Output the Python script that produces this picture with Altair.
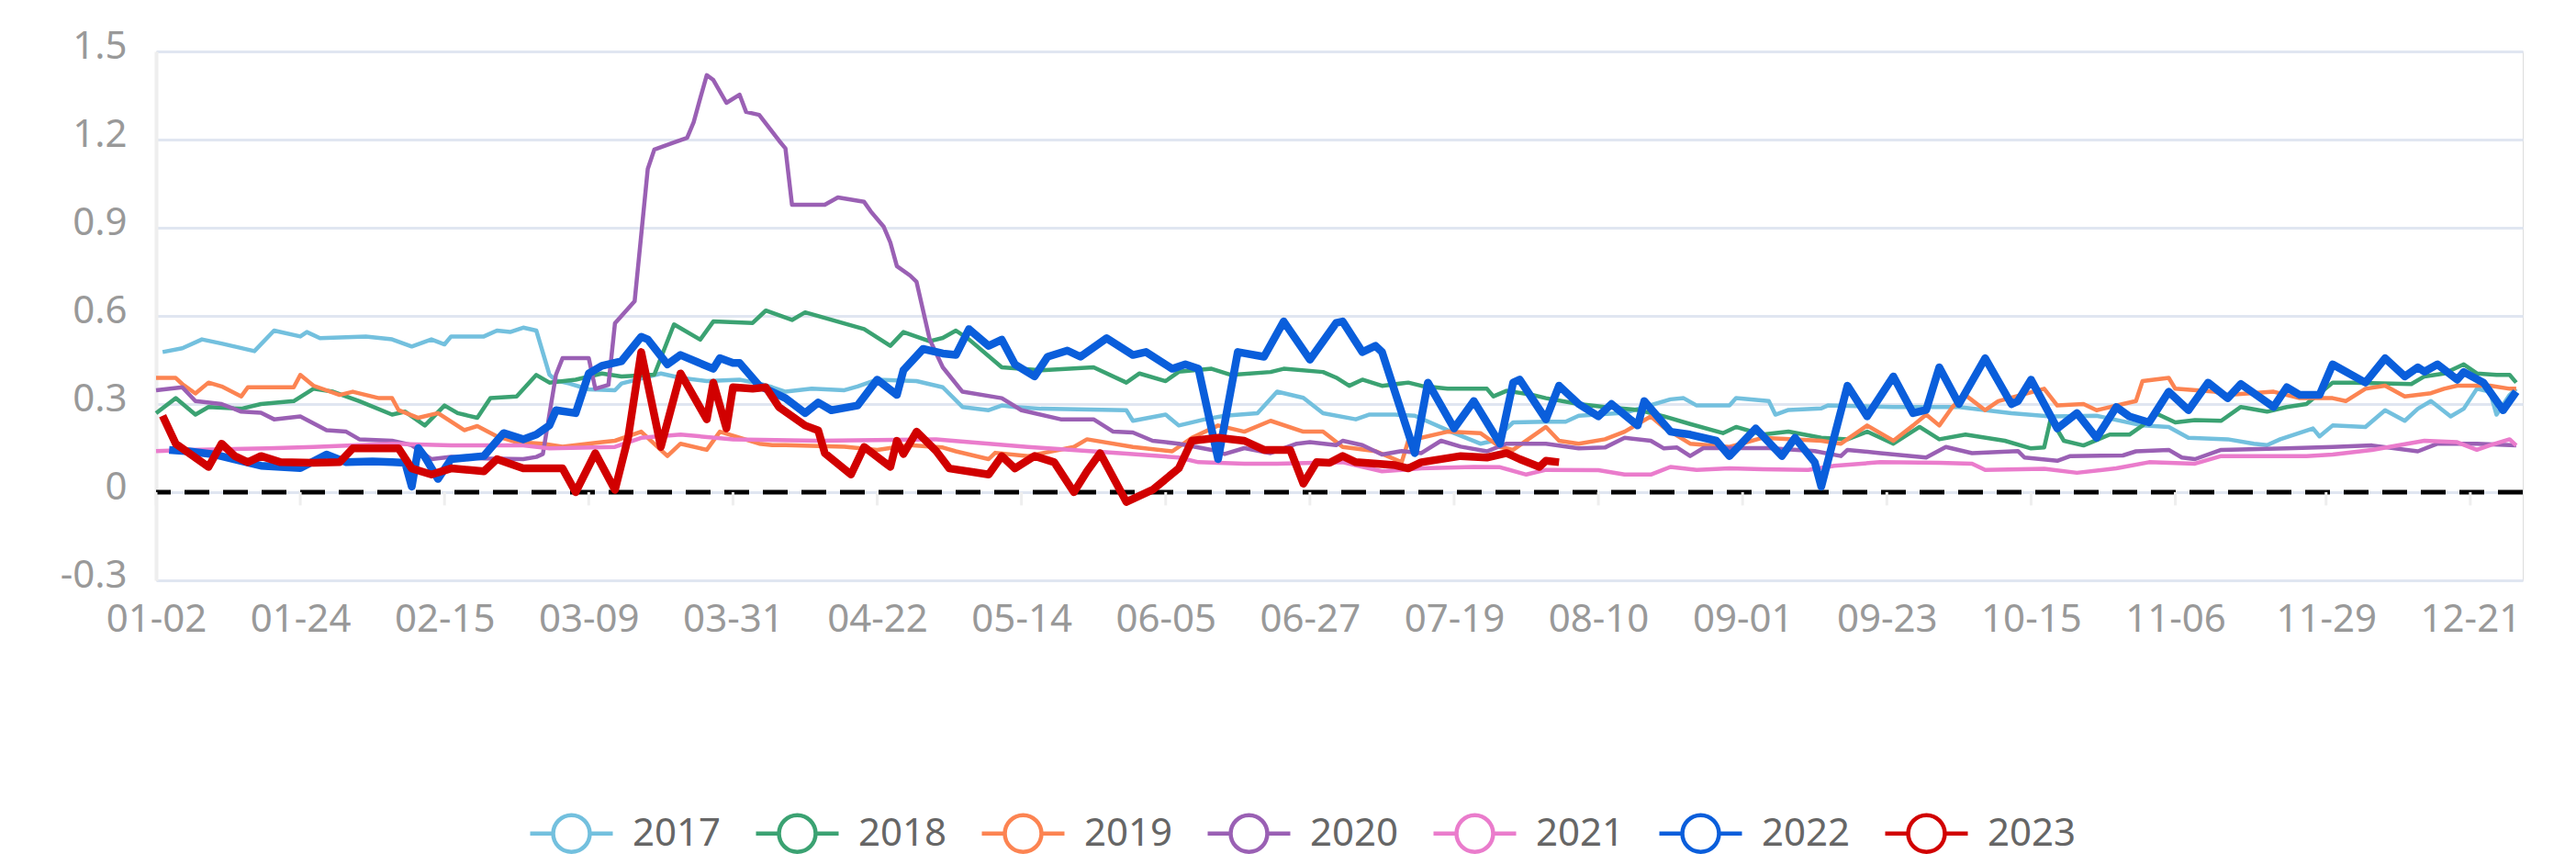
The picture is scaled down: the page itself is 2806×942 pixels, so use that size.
import altair as alt
import pandas as pd

YEARS = ["2017", "2018", "2019", "2020", "2021", "2022", "2023"]
COLORS = ["#73C0DE", "#3BA272", "#FC8452", "#9A60B4", "#EA7CCC", "#0A5EDB", "#D10000"]
WIDTHS = [4.5, 4.5, 4.5, 4.5, 4.5, 8.5, 8.5]

TICK_LABELS = ["01-02", "01-24", "02-15", "03-09", "03-31", "04-22", "05-14", "06-05",
               "06-27", "07-19", "08-10", "09-01", "09-23", "10-15", "11-06", "11-29", "12-21"]
Y_TICKS = [-0.3, 0, 0.3, 0.6, 0.9, 1.2, 1.5]

# day = days after 01-02
d2017 = [1, 4, 7, 10, 15, 18, 22, 23, 25, 32, 36, 39, 42, 44, 45, 50, 52, 54, 56, 58,
         60, 61, 63, 66, 70, 71, 77, 80, 84, 89, 92, 94, 96, 100, 105, 107, 110, 116, 120, 123,
         127, 129, 131, 135, 148, 149, 154, 156, 160, 163, 168, 171, 175, 178, 183, 185, 189, 192, 198, 202,
         204, 207, 212, 215, 217, 224, 231, 233, 235, 240, 241, 246, 247, 249, 254, 255, 265, 275, 283, 289,
         296, 303, 307, 310, 316, 320, 322, 324, 329, 330, 332, 337, 340, 343, 345, 347, 350, 352, 354, 356,
         357, 359, 360]
v2017 = [0.477, 0.49, 0.52, 0.506, 0.48, 0.55, 0.53, 0.545, 0.524, 0.53, 0.52, 0.496, 0.52, 0.503, 0.53, 0.53, 0.55, 0.545, 0.56, 0.55,
         0.40, 0.38, 0.37, 0.35, 0.347, 0.37, 0.404, 0.389, 0.378, 0.383, 0.37, 0.357, 0.342, 0.352, 0.347, 0.36, 0.383, 0.378, 0.357, 0.29,
         0.279, 0.295, 0.29, 0.284, 0.279, 0.243, 0.264, 0.227, 0.248, 0.26, 0.269, 0.342, 0.321, 0.269, 0.248, 0.264, 0.264, 0.26, 0.201, 0.165,
         0.175, 0.2375, 0.24, 0.24, 0.26, 0.27, 0.316, 0.32, 0.295, 0.295, 0.32, 0.31, 0.264, 0.28, 0.285, 0.295, 0.29, 0.29, 0.269, 0.258,
         0.26, 0.227, 0.222, 0.185, 0.18, 0.165, 0.16, 0.18, 0.217, 0.19, 0.227, 0.222, 0.279, 0.243, 0.284, 0.31, 0.258, 0.284, 0.352, 0.342,
         0.264, 0.331, 0.352]

d2018 = [0, 3, 6, 8, 13, 16, 21, 24, 27, 31, 36, 38, 41, 44, 46, 49, 51, 55, 58, 60,
         64, 68, 71, 76, 79, 83, 85, 91, 93, 97, 99, 108, 112, 114, 118, 120, 122, 124, 129, 135,
         143, 148, 150, 154, 156, 161, 164, 170, 172, 178, 180, 182, 184, 187, 191, 193, 197, 203, 204, 206,
         210, 212, 217, 221, 226, 230, 234, 239, 241, 245, 249, 254, 258, 261, 265, 269, 272, 276, 282, 286,
         288, 289, 291, 294, 298, 301, 303, 305, 308, 311, 315, 318, 322, 325, 328, 332, 335, 344, 346, 349,
         352, 354, 357, 359, 360]
v2018 = [0.269, 0.32, 0.264, 0.29, 0.284, 0.30, 0.31, 0.352, 0.342, 0.31, 0.264, 0.274, 0.227, 0.295, 0.269, 0.253, 0.32, 0.326, 0.399, 0.373,
         0.383, 0.404, 0.394, 0.40, 0.571, 0.519, 0.581, 0.576, 0.618, 0.586, 0.612, 0.555, 0.498, 0.545, 0.514, 0.525, 0.55, 0.52, 0.425, 0.415,
         0.425, 0.373, 0.404, 0.378, 0.41, 0.42, 0.399, 0.409, 0.42, 0.409, 0.39, 0.362, 0.383, 0.362, 0.373, 0.362, 0.352, 0.352, 0.326, 0.345,
         0.331, 0.32, 0.30, 0.29, 0.28, 0.258, 0.232, 0.201, 0.222, 0.196, 0.206, 0.185, 0.18, 0.206, 0.165, 0.222, 0.18, 0.196, 0.175, 0.149,
         0.152, 0.25, 0.175, 0.159, 0.196, 0.196, 0.227, 0.269, 0.2375, 0.245, 0.243, 0.29, 0.274, 0.29, 0.30, 0.373, 0.373, 0.368, 0.394, 0.404,
         0.435, 0.404, 0.399, 0.399, 0.373]

d2019 = [0, 3, 4, 6, 8, 10, 13, 14, 21, 22, 24, 28, 30, 34, 36, 37, 40, 43, 47, 49,
         52, 55, 59, 62, 68, 70, 74, 78, 80, 84, 86, 92, 94, 96, 105, 110, 115, 120, 122, 127,
         128, 133, 140, 142, 149, 155, 158, 162, 166, 170, 175, 178, 181, 186, 190, 191, 197, 202, 205, 207,
         212, 214, 217, 221, 224, 228, 230, 234, 240, 245, 254, 257, 261, 265, 268, 270, 272, 274, 276, 279,
         281, 288, 290, 294, 296, 300, 302, 303, 307, 308, 314, 316, 323, 327, 332, 334, 337, 340, 343, 347,
         349, 351, 356, 359, 360]
v2019 = [0.389, 0.389, 0.368, 0.336, 0.373, 0.36, 0.326, 0.357, 0.357, 0.399, 0.3625, 0.331, 0.342, 0.32, 0.32, 0.279, 0.253, 0.269, 0.211, 0.225,
         0.19, 0.17, 0.165, 0.155, 0.17, 0.175, 0.206, 0.123, 0.165, 0.144, 0.206, 0.165, 0.16, 0.16, 0.155, 0.144, 0.16, 0.152, 0.139, 0.1125,
         0.134, 0.123, 0.154, 0.18, 0.154, 0.139, 0.185, 0.227, 0.206, 0.243, 0.206, 0.206, 0.154, 0.14, 0.102, 0.175, 0.206, 0.201, 0.154, 0.144,
         0.222, 0.175, 0.165, 0.18, 0.206, 0.258, 0.22, 0.165, 0.154, 0.185, 0.175, 0.165, 0.227, 0.175, 0.227, 0.264, 0.227, 0.29, 0.33, 0.279,
         0.31, 0.352, 0.295, 0.30, 0.279, 0.30, 0.31, 0.378, 0.389, 0.352, 0.342, 0.331, 0.342, 0.32, 0.32, 0.31, 0.352, 0.3625, 0.326, 0.337,
         0.352, 0.3625, 0.3625, 0.352, 0.352]

d2020 = [0, 4, 6, 10, 13, 16, 18, 22, 26, 29, 31, 36, 39, 42, 45, 50, 56, 58, 59, 61,
         62, 66, 67, 69, 70, 73, 75, 76, 79, 81, 82, 83, 84, 85, 87, 89, 90, 92, 95, 96,
         97, 102, 104, 108, 109, 111, 112, 113, 115, 116, 118, 120, 123, 129, 132, 138, 143, 146, 149, 152,
         156, 161, 163, 166, 170, 174, 176, 180, 181, 184, 187, 190, 193, 196, 199, 203, 206, 212, 217, 221,
         224, 228, 230, 232, 234, 236, 241, 246, 253, 257, 258, 263, 270, 273, 277, 284, 285, 290, 292, 300,
         302, 307, 309, 311, 315, 325, 332, 338, 345, 348, 354, 360]
v2020 = [0.347, 0.357, 0.31, 0.30, 0.274, 0.27, 0.248, 0.258, 0.211, 0.206, 0.18, 0.175, 0.16, 0.1125, 0.12, 0.115, 0.1125, 0.12, 0.13, 0.40,
         0.456, 0.456, 0.352, 0.365, 0.575, 0.65, 1.10, 1.166, 1.19, 1.206, 1.259, 1.34, 1.419, 1.403, 1.325, 1.353, 1.294, 1.284, 1.197, 1.17,
         0.978, 0.978, 1.003, 0.988, 0.956, 0.903, 0.85, 0.769, 0.7375, 0.716, 0.52, 0.425, 0.342, 0.32, 0.279, 0.248, 0.248, 0.206, 0.203, 0.175,
         0.165, 0.144, 0.13, 0.15, 0.133, 0.165, 0.17, 0.16, 0.175, 0.16, 0.128, 0.14, 0.133, 0.175, 0.155, 0.139, 0.165, 0.165, 0.149, 0.152,
         0.185, 0.175, 0.149, 0.152, 0.123, 0.15, 0.15, 0.15, 0.14, 0.123, 0.144, 0.133, 0.118, 0.154, 0.133, 0.14, 0.118, 0.107, 0.123, 0.125,
         0.139, 0.144, 0.118, 0.1125, 0.144, 0.149, 0.154, 0.159, 0.139, 0.165, 0.165, 0.159]

d2021 = [0, 5, 17, 24, 36, 45, 56, 60, 70, 74, 80, 88, 101, 119, 133, 147, 156, 159, 166, 171,
         181, 187, 193, 201, 205, 209, 212, 220, 224, 228, 231, 235, 240, 245, 252, 256, 263, 272, 277, 279,
         288, 293, 299, 304, 311, 315, 328, 332, 338, 346, 351, 354, 356, 359, 360]
v2021 = [0.14, 0.144, 0.149, 0.154, 0.165, 0.159, 0.159, 0.149, 0.154, 0.185, 0.196, 0.18, 0.175, 0.18, 0.154, 0.133, 0.118, 0.102, 0.097, 0.097,
         0.102, 0.071, 0.081, 0.086, 0.085, 0.06, 0.076, 0.075, 0.06, 0.06, 0.086, 0.076, 0.081, 0.078, 0.076, 0.09, 0.102, 0.10, 0.097, 0.076,
         0.08, 0.066, 0.081, 0.102, 0.097, 0.123, 0.123, 0.128, 0.144, 0.175, 0.17, 0.144, 0.16, 0.18, 0.159]

d2022 = [2, 5, 9, 16, 22, 26, 29, 33, 36, 38, 39, 40, 41, 43, 45, 50, 53, 56, 58, 60,
         61, 64, 66, 68, 71, 74, 75, 78, 80, 85, 86, 88, 89, 92, 96, 99, 101, 103, 107, 110,
         113, 114, 117, 120, 122, 124, 127, 129, 131, 134, 136, 139, 141, 145, 149, 151, 155, 157, 159, 162,
         165, 169, 172, 176, 180, 181, 184, 186, 187, 192, 194, 198, 201, 205, 207, 208, 212, 214, 217, 220,
         222, 226, 227, 231, 234, 238, 240, 244, 248, 250, 253, 254, 258, 261, 265, 268, 270, 272, 275, 279,
         283, 284, 286, 290, 293, 296, 299, 301, 304, 307, 310, 313, 316, 318, 323, 325, 327, 330, 332, 337,
         340, 343, 345, 346, 348, 351, 352, 355, 358, 360]
v2022 = [0.144, 0.139, 0.128, 0.09, 0.082, 0.128, 0.102, 0.105, 0.102, 0.10, 0.019, 0.15, 0.12, 0.045, 0.1125, 0.123, 0.201, 0.18, 0.196, 0.227,
         0.279, 0.269, 0.404, 0.43, 0.446, 0.529, 0.52, 0.435, 0.467, 0.42, 0.456, 0.44, 0.44, 0.3625, 0.32, 0.269, 0.305, 0.279, 0.295, 0.383,
         0.331, 0.415, 0.4875, 0.472, 0.467, 0.555, 0.498, 0.519, 0.435, 0.394, 0.461, 0.482, 0.461, 0.524, 0.467, 0.477, 0.42, 0.435, 0.42, 0.1125,
         0.477, 0.461, 0.581, 0.451, 0.576, 0.581, 0.477, 0.498, 0.477, 0.133, 0.373, 0.217, 0.31, 0.165, 0.373, 0.383, 0.248, 0.3625, 0.30, 0.258,
         0.30, 0.227, 0.31, 0.206, 0.196, 0.175, 0.123, 0.217, 0.123, 0.185, 0.102, 0.019, 0.3625, 0.258, 0.394, 0.269, 0.28, 0.425, 0.30, 0.456,
         0.30, 0.31, 0.383, 0.217, 0.269, 0.185, 0.29, 0.258, 0.2375, 0.342, 0.279, 0.373, 0.32, 0.368, 0.29, 0.357, 0.331, 0.331, 0.435, 0.373,
         0.456, 0.394, 0.425, 0.41, 0.435, 0.383, 0.409, 0.373, 0.279, 0.342]

d2023 = [1, 3, 8, 10, 12, 14, 16, 19, 24, 28, 30, 37, 39, 42, 45, 50, 52, 56, 62, 64,
         67, 70, 72, 74, 77, 80, 84, 85, 87, 88, 91, 93, 95, 99, 101, 102, 106, 108, 112, 113,
         114, 116, 119, 121, 127, 129, 131, 134, 137, 140, 142, 144, 148, 152, 156, 158, 162, 166, 169, 173,
         175, 177, 179, 181, 183, 189, 191, 193, 199, 203, 206, 208, 211, 212, 214]
v2023 = [0.26, 0.165, 0.086, 0.165, 0.123, 0.102, 0.123, 0.102, 0.10, 0.102, 0.149, 0.149, 0.081, 0.06, 0.081, 0.071, 0.1125, 0.081, 0.081, 0.0,
         0.133, 0.008, 0.185, 0.477, 0.154, 0.404, 0.248, 0.373, 0.217, 0.357, 0.352, 0.357, 0.29, 0.227, 0.21, 0.133, 0.06, 0.154, 0.086, 0.175,
         0.13, 0.206, 0.14, 0.081, 0.06, 0.123, 0.081, 0.123, 0.102, 0.0, 0.071, 0.133, -0.033, 0.008, 0.081, 0.175, 0.185, 0.175, 0.144, 0.144,
         0.029, 0.102, 0.10, 0.123, 0.102, 0.092, 0.081, 0.102, 0.123, 0.118, 0.133, 0.1125, 0.086, 0.107, 0.102]

SERIES = {
    "2017": (d2017, v2017), "2018": (d2018, v2018), "2019": (d2019, v2019),
    "2020": (d2020, v2020), "2021": (d2021, v2021), "2022": (d2022, v2022),
    "2023": (d2023, v2023),
}

BASE = pd.Timestamp("2021-01-02")


def frame(year):
    d, v = SERIES[year]
    df = pd.DataFrame({"day": d, "value": v})
    df["date"] = (BASE + pd.to_timedelta(df["day"], unit="D")).dt.strftime("%Y-%m-%dT00:00:00")
    df["year"] = year
    return df


def dt(label):
    m, d = label.split("-")
    return alt.DateTime(year=2021, month=int(m), date=int(d))


tick_dt = [dt(t) for t in TICK_LABELS]
x_scale = alt.Scale(domain=[dt("01-02"), dt("12-29")])
y_scale = alt.Scale(domain=[-0.3, 1.5], nice=False, zero=False)

x_axis = alt.Axis(values=tick_dt, format="%m-%d", title=None, grid=False, ticks=False,
                  domain=False, labelFontSize=42, labelColor="#999999", labelPadding=22,
                  labelFlush=False, labelOverlap=False, labelFont="Noto Sans")
y_axis = alt.Axis(values=Y_TICKS, title=None, grid=True, gridColor="#E0E6F1", gridWidth=3,
                  ticks=False, domain=True, domainColor="#EEEEEE", domainWidth=4,
                  labelFontSize=42, labelColor="#999999", labelPadding=32, labelFont="Noto Sans",
                  labelOffset=-6,
                  labelExpr="datum.value == 0 ? '0' : (datum.value < 0 ? '-' : '') + format(abs(datum.value), '.1f')")

color_scale = alt.Scale(domain=YEARS, range=COLORS)
legend_path = ("M-1,0L-0.444,0M0.444,0L1,0"
               "M-0.444,0A0.444,0.444,0,1,1,0.444,0A0.444,0.444,0,1,1,-0.444,0")
legend = alt.Legend(title=None, orient="none", direction="horizontal", legendX=405, legendY=804,
                    symbolType=legend_path, symbolSize=8100, symbolStrokeWidth=4.5,
                    symbolFillColor="white", labelFontSize=42, labelColor="#666666",
                    labelFont="Noto Sans", labelOffset=19, columnPadding=28, padding=0)

# zero reference line
zero_df = pd.DataFrame({"zero": [0]})
zero_line = alt.Chart(zero_df).mark_rule(color="black", strokeWidth=5, strokeDash=[27, 15]).encode(
    y=alt.Y("zero:Q", scale=y_scale, axis=y_axis)
)

# x-axis ticks hanging below the zero line
tick_df = pd.DataFrame({"date": [pd.Timestamp(year=2021, month=int(t[:2]), day=int(t[3:])).strftime("%Y-%m-%dT00:00:00") for t in TICK_LABELS]})
ticks = alt.Chart(tick_df).mark_rule(color="#EEEEEE", strokeWidth=3).encode(
    x=alt.X("date:T", scale=x_scale, axis=x_axis),
    y=alt.datum(0),
    y2=alt.datum(-0.045),
)

layers = [zero_line, ticks]
for i, year in enumerate(YEARS):
    layers.append(
        alt.Chart(frame(year)).mark_line(strokeWidth=WIDTHS[i], strokeJoin="round").encode(
            x=alt.X("date:T", scale=x_scale, axis=x_axis),
            y=alt.Y("value:Q", scale=y_scale, axis=y_axis),
            color=alt.Color("year:N", scale=color_scale, legend=legend),
        )
    )

chart = alt.layer(*layers).properties(
    width=2578, height=576,
    autosize=alt.AutoSizeParams(type="none"),
    padding={"left": 162, "top": 48, "right": 40, "bottom": 300},
).configure_view(stroke=None).configure(background="white")

chart.save("out.html", embed_options={"renderer": "svg", "actions": False})
